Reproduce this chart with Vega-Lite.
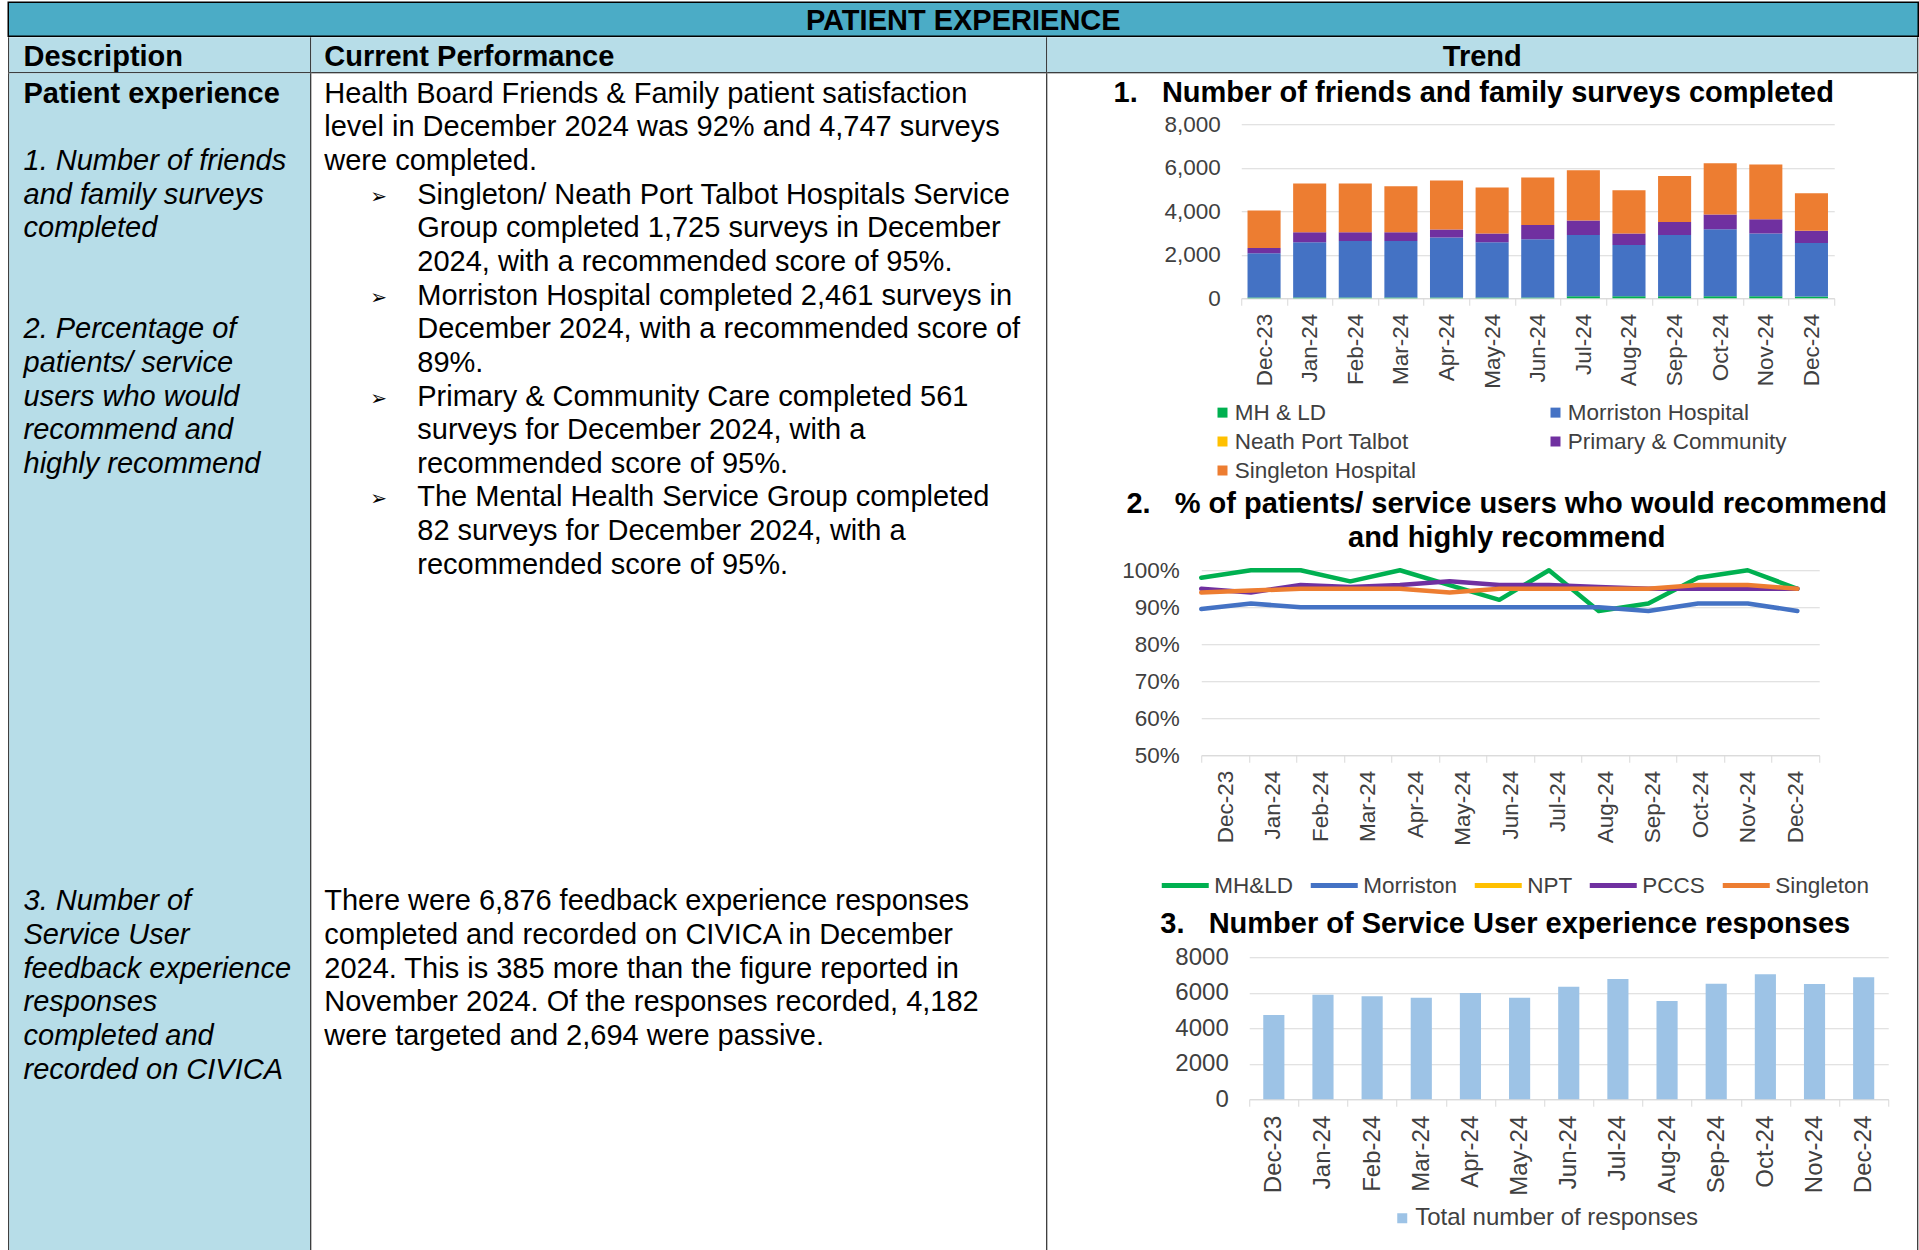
{
  "$schema": "https://vega.github.io/schema/vega-lite/v6.json",
  "padding": {"left": 7.25, "top": 1.25, "right": 0, "bottom": 0},
  "background": "#ffffff",
  "config": {
    "font": "Liberation Sans",
    "view": {"stroke": null},
    "title": {"font": "Liberation Sans", "fontSize": 29, "fontWeight": "bold", "color": "#000000", "frame": "group", "anchor": "middle"},
    "axis": {"labelFont": "Liberation Sans", "labelColor": "#404040", "labelOverlap": false},
    "legend": {"labelFont": "Liberation Sans", "labelColor": "#404040", "padding": 0, "labelLimit": 500},
    "text": {"font": "Liberation Sans", "fill": "#000000"}
  },
  "datasets": {
    "ff": [
      {"m": "Dec-23", "g": "MH & LD", "v": 30}, {"m": "Dec-23", "g": "Morriston Hospital", "v": 2039}, {"m": "Dec-23", "g": "Primary & Community", "v": 245}, {"m": "Dec-23", "g": "Singleton Hospital", "v": 1717},
      {"m": "Jan-24", "g": "MH & LD", "v": 30}, {"m": "Jan-24", "g": "Morriston Hospital", "v": 2545}, {"m": "Jan-24", "g": "Primary & Community", "v": 460}, {"m": "Jan-24", "g": "Singleton Hospital", "v": 2237},
      {"m": "Feb-24", "g": "MH & LD", "v": 30}, {"m": "Feb-24", "g": "Morriston Hospital", "v": 2606}, {"m": "Feb-24", "g": "Primary & Community", "v": 399}, {"m": "Feb-24", "g": "Singleton Hospital", "v": 2237},
      {"m": "Mar-24", "g": "MH & LD", "v": 30}, {"m": "Mar-24", "g": "Morriston Hospital", "v": 2606}, {"m": "Mar-24", "g": "Primary & Community", "v": 399}, {"m": "Mar-24", "g": "Singleton Hospital", "v": 2115},
      {"m": "Apr-24", "g": "MH & LD", "v": 30}, {"m": "Apr-24", "g": "Morriston Hospital", "v": 2759}, {"m": "Apr-24", "g": "Primary & Community", "v": 368}, {"m": "Apr-24", "g": "Singleton Hospital", "v": 2253},
      {"m": "May-24", "g": "MH & LD", "v": 30}, {"m": "May-24", "g": "Morriston Hospital", "v": 2545}, {"m": "May-24", "g": "Primary & Community", "v": 398}, {"m": "May-24", "g": "Singleton Hospital", "v": 2115},
      {"m": "Jun-24", "g": "MH & LD", "v": 30}, {"m": "Jun-24", "g": "Morriston Hospital", "v": 2683}, {"m": "Jun-24", "g": "Primary & Community", "v": 659}, {"m": "Jun-24", "g": "Singleton Hospital", "v": 2176},
      {"m": "Jul-24", "g": "MH & LD", "v": 90}, {"m": "Jul-24", "g": "Morriston Hospital", "v": 2822}, {"m": "Jul-24", "g": "Primary & Community", "v": 659}, {"m": "Jul-24", "g": "Singleton Hospital", "v": 2314},
      {"m": "Aug-24", "g": "MH & LD", "v": 90}, {"m": "Aug-24", "g": "Morriston Hospital", "v": 2362}, {"m": "Aug-24", "g": "Primary & Community", "v": 521}, {"m": "Aug-24", "g": "Singleton Hospital", "v": 1993},
      {"m": "Sep-24", "g": "MH & LD", "v": 90}, {"m": "Sep-24", "g": "Morriston Hospital", "v": 2822}, {"m": "Sep-24", "g": "Primary & Community", "v": 598}, {"m": "Sep-24", "g": "Singleton Hospital", "v": 2115},
      {"m": "Oct-24", "g": "MH & LD", "v": 90}, {"m": "Oct-24", "g": "Morriston Hospital", "v": 3082}, {"m": "Oct-24", "g": "Primary & Community", "v": 675}, {"m": "Oct-24", "g": "Singleton Hospital", "v": 2360},
      {"m": "Nov-24", "g": "MH & LD", "v": 90}, {"m": "Nov-24", "g": "Morriston Hospital", "v": 2883}, {"m": "Nov-24", "g": "Primary & Community", "v": 659}, {"m": "Nov-24", "g": "Singleton Hospital", "v": 2514},
      {"m": "Dec-24", "g": "MH & LD", "v": 82}, {"m": "Dec-24", "g": "Morriston Hospital", "v": 2461}, {"m": "Dec-24", "g": "Primary & Community", "v": 561}, {"m": "Dec-24", "g": "Singleton Hospital", "v": 1725}
    ],
    "pct": [
      {"m": "Dec-23", "g": "MH&LD", "v": 98}, {"m": "Jan-24", "g": "MH&LD", "v": 100}, {"m": "Feb-24", "g": "MH&LD", "v": 100}, {"m": "Mar-24", "g": "MH&LD", "v": 97}, {"m": "Apr-24", "g": "MH&LD", "v": 100}, {"m": "May-24", "g": "MH&LD", "v": 96}, {"m": "Jun-24", "g": "MH&LD", "v": 92}, {"m": "Jul-24", "g": "MH&LD", "v": 100}, {"m": "Aug-24", "g": "MH&LD", "v": 89}, {"m": "Sep-24", "g": "MH&LD", "v": 91}, {"m": "Oct-24", "g": "MH&LD", "v": 98}, {"m": "Nov-24", "g": "MH&LD", "v": 100}, {"m": "Dec-24", "g": "MH&LD", "v": 95},
      {"m": "Dec-23", "g": "Morriston", "v": 89.5}, {"m": "Jan-24", "g": "Morriston", "v": 91}, {"m": "Feb-24", "g": "Morriston", "v": 90}, {"m": "Mar-24", "g": "Morriston", "v": 90}, {"m": "Apr-24", "g": "Morriston", "v": 90}, {"m": "May-24", "g": "Morriston", "v": 90}, {"m": "Jun-24", "g": "Morriston", "v": 90}, {"m": "Jul-24", "g": "Morriston", "v": 90}, {"m": "Aug-24", "g": "Morriston", "v": 90}, {"m": "Sep-24", "g": "Morriston", "v": 89}, {"m": "Oct-24", "g": "Morriston", "v": 91}, {"m": "Nov-24", "g": "Morriston", "v": 91}, {"m": "Dec-24", "g": "Morriston", "v": 89},
      {"m": "Dec-23", "g": "PCCS", "v": 95}, {"m": "Jan-24", "g": "PCCS", "v": 94}, {"m": "Feb-24", "g": "PCCS", "v": 96}, {"m": "Mar-24", "g": "PCCS", "v": 95.5}, {"m": "Apr-24", "g": "PCCS", "v": 96}, {"m": "May-24", "g": "PCCS", "v": 97}, {"m": "Jun-24", "g": "PCCS", "v": 96}, {"m": "Jul-24", "g": "PCCS", "v": 96}, {"m": "Aug-24", "g": "PCCS", "v": 95.5}, {"m": "Sep-24", "g": "PCCS", "v": 95}, {"m": "Oct-24", "g": "PCCS", "v": 95}, {"m": "Nov-24", "g": "PCCS", "v": 95}, {"m": "Dec-24", "g": "PCCS", "v": 95},
      {"m": "Dec-23", "g": "Singleton", "v": 94}, {"m": "Jan-24", "g": "Singleton", "v": 94.5}, {"m": "Feb-24", "g": "Singleton", "v": 95}, {"m": "Mar-24", "g": "Singleton", "v": 95}, {"m": "Apr-24", "g": "Singleton", "v": 95}, {"m": "May-24", "g": "Singleton", "v": 94}, {"m": "Jun-24", "g": "Singleton", "v": 95}, {"m": "Jul-24", "g": "Singleton", "v": 95}, {"m": "Aug-24", "g": "Singleton", "v": 95}, {"m": "Sep-24", "g": "Singleton", "v": 95}, {"m": "Oct-24", "g": "Singleton", "v": 96}, {"m": "Nov-24", "g": "Singleton", "v": 96}, {"m": "Dec-24", "g": "Singleton", "v": 95}
    ],
    "resp": [
      {"m": "Dec-23", "v": 4744}, {"m": "Jan-24", "v": 5892}, {"m": "Feb-24", "v": 5798}, {"m": "Mar-24", "v": 5722}, {"m": "Apr-24", "v": 5986}, {"m": "May-24", "v": 5722}, {"m": "Jun-24", "v": 6344}, {"m": "Jul-24", "v": 6776}, {"m": "Aug-24", "v": 5534}, {"m": "Sep-24", "v": 6513}, {"m": "Oct-24", "v": 7040}, {"m": "Nov-24", "v": 6491}, {"m": "Dec-24", "v": 6876}
    ],
    "desc": [
      {"line": 0, "t": "Patient experience", "s": "b"},
      {"line": 2, "t": "1. Number of friends", "s": "i"},
      {"line": 3, "t": "and family surveys", "s": "i"},
      {"line": 4, "t": "completed", "s": "i"},
      {"line": 7, "t": "2. Percentage of", "s": "i"},
      {"line": 8, "t": "patients/ service", "s": "i"},
      {"line": 9, "t": "users who would", "s": "i"},
      {"line": 10, "t": "recommend and", "s": "i"},
      {"line": 11, "t": "highly recommend", "s": "i"},
      {"line": 24, "t": "3. Number of", "s": "i"},
      {"line": 25, "t": "Service User", "s": "i"},
      {"line": 26, "t": "feedback experience", "s": "i"},
      {"line": 27, "t": "responses", "s": "i"},
      {"line": 28, "t": "completed and", "s": "i"},
      {"line": 29, "t": "recorded on CIVICA", "s": "i"}
    ],
    "perf": [
      {"line": 0, "ind": 0, "t": "Health Board Friends & Family patient satisfaction"},
      {"line": 1, "ind": 0, "t": "level in December 2024 was 92% and 4,747 surveys"},
      {"line": 2, "ind": 0, "t": "were completed."},
      {"line": 3, "ind": 1, "t": "Singleton/ Neath Port Talbot Hospitals Service"},
      {"line": 4, "ind": 1, "t": "Group completed 1,725 surveys in December"},
      {"line": 5, "ind": 1, "t": "2024, with a recommended score of 95%."},
      {"line": 6, "ind": 1, "t": "Morriston Hospital completed 2,461 surveys in"},
      {"line": 7, "ind": 1, "t": "December 2024, with a recommended score of"},
      {"line": 8, "ind": 1, "t": "89%."},
      {"line": 9, "ind": 1, "t": "Primary & Community Care completed 561"},
      {"line": 10, "ind": 1, "t": "surveys for December 2024, with a"},
      {"line": 11, "ind": 1, "t": "recommended score of 95%."},
      {"line": 12, "ind": 1, "t": "The Mental Health Service Group completed"},
      {"line": 13, "ind": 1, "t": "82 surveys for December 2024, with a"},
      {"line": 14, "ind": 1, "t": "recommended score of 95%."},
      {"line": 24, "ind": 0, "t": "There were 6,876 feedback experience responses"},
      {"line": 25, "ind": 0, "t": "completed and recorded on CIVICA in December"},
      {"line": 26, "ind": 0, "t": "2024. This is 385 more than the figure reported in"},
      {"line": 27, "ind": 0, "t": "November 2024. Of the responses recorded, 4,182"},
      {"line": 28, "ind": 0, "t": "were targeted and 2,694 were passive."}
    ],
    "bul": [{"line": 3}, {"line": 6}, {"line": 9}, {"line": 12}]
  },
  "spacing": 1,
  "bounds": "flush",
  "resolve": {"scale": {"color": "independent"}, "legend": {"color": "independent"}},
  "vconcat": [
    {
      "width": 1910, "height": 34,
      "data": {"values": [{"t": "PATIENT EXPERIENCE"}]},
      "mark": {"type": "text", "fontSize": 29, "fontWeight": "bold", "align": "center", "baseline": "middle", "dy": 2},
      "encoding": {"text": {"field": "t"}},
      "view": {"fill": "#4BACC6", "stroke": "#000000", "strokeWidth": 1.5}
    },
    {
      "columns": 7, "spacing": 0, "bounds": "flush", "align": "each",
      "resolve": {"scale": {"color": "independent"}, "legend": {"color": "independent"}},
      "concat": [
        {"width": 1, "height": 35, "data": {"values": [{}]}, "mark": "text", "view": {"fill": "#000000"}},
        {"width": 301, "height": 35, "data": {"values": [{"t": "Description"}]},
         "mark": {"type": "text", "fontSize": 29, "fontWeight": "bold", "align": "left", "baseline": "middle", "dy": 2},
         "encoding": {"text": {"field": "t"}, "x": {"datum": 0, "type": "quantitative", "scale": {"domain": [-0.15323, 3.08333], "nice": false, "zero": false}, "axis": null}},
         "view": {"fill": "#B7DDE8"}},
        {"width": 1, "height": 35, "data": {"values": [{}]}, "mark": "text", "view": {"fill": "#000000"}},
        {"width": 735, "height": 35, "data": {"values": [{"t": "Current Performance"}]},
         "mark": {"type": "text", "fontSize": 29, "fontWeight": "bold", "align": "left", "baseline": "middle", "dy": 2},
         "encoding": {"text": {"field": "t"}, "x": {"datum": 0, "type": "quantitative", "scale": {"domain": [-0.13978, 7.76345], "nice": false, "zero": false}, "axis": null}},
         "view": {"fill": "#B7DDE8"}},
        {"width": 1, "height": 35, "data": {"values": [{}]}, "mark": "text", "view": {"fill": "#000000"}},
        {"width": 870, "height": 35, "data": {"values": [{"t": "Trend"}]},
         "mark": {"type": "text", "fontSize": 29, "fontWeight": "bold", "align": "center", "baseline": "middle", "dy": 2},
         "encoding": {"text": {"field": "t"}},
         "view": {"fill": "#B7DDE8"}},
        {"width": 1, "height": 35, "data": {"values": [{}]}, "mark": "text", "view": {"fill": "#000000"}},

        {"width": 1, "height": 1, "data": {"values": [{}]}, "mark": "text", "view": {"fill": "#000000"}},
        {"width": 301, "height": 1, "data": {"values": [{}]}, "mark": "text", "view": {"fill": "#000000"}},
        {"width": 1, "height": 1, "data": {"values": [{}]}, "mark": "text", "view": {"fill": "#000000"}},
        {"width": 735, "height": 1, "data": {"values": [{}]}, "mark": "text", "view": {"fill": "#000000"}},
        {"width": 1, "height": 1, "data": {"values": [{}]}, "mark": "text", "view": {"fill": "#000000"}},
        {"width": 870, "height": 1, "data": {"values": [{}]}, "mark": "text", "view": {"fill": "#000000"}},
        {"width": 1, "height": 1, "data": {"values": [{}]}, "mark": "text", "view": {"fill": "#000000"}},

        {"width": 1, "height": 1177, "data": {"values": [{}]}, "mark": "text", "view": {"fill": "#000000"}},
        {"width": 301, "height": 1177, "data": {"name": "desc"},
         "view": {"fill": "#B7DDE8"},
         "encoding": {
           "x": {"datum": 0, "type": "quantitative", "scale": {"domain": [-0.15323, 3.08333], "nice": false, "zero": false}, "axis": null},
           "y": {"field": "line", "type": "quantitative", "scale": {"domain": [-0.8737, 34.10401], "reverse": true, "nice": false, "zero": false}, "axis": null},
           "text": {"field": "t"}
         },
         "layer": [
           {"transform": [{"filter": "datum.s == 'b'"}], "mark": {"type": "text", "fontSize": 29, "fontWeight": "bold", "align": "left", "baseline": "alphabetic"}},
           {"transform": [{"filter": "datum.s == 'i'"}], "mark": {"type": "text", "fontSize": 29, "fontStyle": "italic", "align": "left", "baseline": "alphabetic"}}
         ]},
        {"width": 1, "height": 1177, "data": {"values": [{}]}, "mark": "text", "view": {"fill": "#000000"}},
        {"width": 735, "height": 1177,
         "layer": [
           {"data": {"name": "perf"},
            "mark": {"type": "text", "fontSize": 29, "align": "left", "baseline": "alphabetic"},
            "encoding": {
              "x": {"field": "ind", "type": "quantitative", "scale": {"domain": [-0.13978, 7.76345], "nice": false, "zero": false}, "axis": null},
              "y": {"field": "line", "type": "quantitative", "scale": {"domain": [-0.8737, 34.10401], "reverse": true, "nice": false, "zero": false}, "axis": null},
              "text": {"field": "t"}
            }},
           {"data": {"name": "bul"},
            "mark": {"type": "text", "font": "DejaVu Sans", "fontSize": 20, "align": "left", "baseline": "alphabetic", "dx": -47, "dy": -1, "text": "\u27a2"},
            "encoding": {
              "x": {"datum": 1, "type": "quantitative", "scale": {"domain": [-0.13978, 7.76345], "nice": false, "zero": false}, "axis": null},
              "y": {"field": "line", "type": "quantitative", "scale": {"domain": [-0.8737, 34.10401], "reverse": true, "nice": false, "zero": false}, "axis": null}
            }}
         ]},
        {"width": 1, "height": 1177, "data": {"values": [{}]}, "mark": "text", "view": {"fill": "#000000"}},
        {
          "spacing": 0, "bounds": "flush",
          "resolve": {"scale": {"color": "independent"}, "legend": {"color": "independent"}},
          "vconcat": [
            {"width": 870, "height": 51, "data": {"values": [{}]}, "mark": "text"},
            {"spacing": 0, "bounds": "flush",
             "resolve": {"scale": {"color": "independent"}, "legend": {"color": "independent"}},
             "hconcat": [
              {"width": 194, "height": 1, "data": {"values": [{}]}, "mark": "text"},
              {
                "width": 593, "height": 174,
                "data": {"name": "ff"},
                "title": {"text": "1.\u00a0\u00a0\u00a0Number of friends and family surveys completed", "dx": -64, "offset": 5},
                "mark": {"type": "bar", "width": {"band": 0.725}},
                "encoding": {
                  "x": {"field": "m", "type": "ordinal", "sort": ["Dec-23","Jan-24","Feb-24","Mar-24","Apr-24","May-24","Jun-24","Jul-24","Aug-24","Sep-24","Oct-24","Nov-24","Dec-24"],
                        "scale": {"type": "band", "paddingInner": 0, "paddingOuter": 0},
                        "axis": {"title": null, "orient": "bottom", "labelAngle": -90, "labelFontSize": 22.5, "labelPadding": 8, "tickBand": "extent", "tickSize": 7, "tickColor": "#D9D9D9", "domainColor": "#D9D9D9", "grid": false}},
                  "y": {"field": "v", "type": "quantitative", "stack": "zero", "scale": {"domain": [0, 8000], "nice": false},
                        "axis": {"title": null, "values": [0, 2000, 4000, 6000, 8000], "format": ",.0f", "labelFontSize": 22.5, "ticks": false, "tickSize": 0, "domain": false, "labelPadding": 21, "gridColor": "#D9D9D9"}},
                  "color": {"field": "g", "type": "nominal",
                            "scale": {"domain": ["MH & LD", "Morriston Hospital", "Neath Port Talbot", "Primary & Community", "Singleton Hospital"], "range": ["#00B050", "#4472C4", "#FFC000", "#7030A0", "#ED7D31"]},
                            "legend": {"orient": "none", "legendX": -30, "legendY": 277, "direction": "horizontal", "columns": 2, "title": null, "symbolType": "square", "symbolSize": 100, "symbolStrokeWidth": 0, "labelFontSize": 22.5, "labelOffset": 1, "columnPadding": 128, "rowPadding": 6, "labelLimit": 500}},
                  "order": {"field": "g", "type": "nominal", "sort": "ascending"}
                }
              }
            ]},
            {"width": 1, "height": 446, "data": {"values": [{}]}, "mark": "text"},
            {"spacing": 0, "bounds": "flush",
             "resolve": {"scale": {"color": "independent"}, "legend": {"color": "independent"}},
             "hconcat": [
              {"width": 154, "height": 1, "data": {"values": [{}]}, "mark": "text"},
              {
                "width": 618, "height": 185,
                "title": {"text": ["2.\u00a0\u00a0\u00a0% of patients/ service users who would recommend", "\u00a0\u00a0\u00a0\u00a0\u00a0\u00a0and highly recommend"], "dx": -3.5, "offset": 6, "lineHeight": 34},
                "resolve": {"scale": {"x": "independent"}, "axis": {"x": "independent"}},
                "layer": [
                  {
                    "data": {"name": "pct"},
                    "mark": {"type": "line", "strokeWidth": 4.5, "strokeJoin": "round", "strokeCap": "round"},
                    "encoding": {
                      "x": {"field": "m", "type": "ordinal", "sort": ["Dec-23","Jan-24","Feb-24","Mar-24","Apr-24","May-24","Jun-24","Jul-24","Aug-24","Sep-24","Oct-24","Nov-24","Dec-24"],
                            "scale": {"type": "point", "padding": 0.22, "align": 0}, "axis": null},
                      "y": {"field": "v", "type": "quantitative", "scale": {"domain": [50, 100], "nice": false, "zero": false},
                            "axis": {"title": null, "values": [50, 60, 70, 80, 90, 100], "labelExpr": "datum.value + '%'", "labelFontSize": 22.5, "ticks": false, "tickSize": 0, "domain": false, "labelPadding": 22, "gridColor": "#D9D9D9"}},
                      "color": {"field": "g", "type": "nominal",
                                "scale": {"domain": ["MH&LD", "Morriston", "NPT", "PCCS", "Singleton"], "range": ["#00B050", "#4472C4", "#FFC000", "#7030A0", "#ED7D31"]},
                                "legend": {"orient": "none", "legendX": -42, "legendY": 289, "direction": "horizontal", "columns": 5, "title": null, "symbolType": "stroke", "symbolSize": 2209, "symbolStrokeWidth": 5, "labelFontSize": 22.5, "labelOffset": 3, "columnPadding": 7, "labelLimit": 500}}
                    }
                  },
                  {
                    "data": {"name": "pct"},
                    "mark": {"type": "point", "opacity": 0},
                    "encoding": {
                      "x": {"field": "m", "type": "ordinal", "sort": ["Dec-23","Jan-24","Feb-24","Mar-24","Apr-24","May-24","Jun-24","Jul-24","Aug-24","Sep-24","Oct-24","Nov-24","Dec-24"],
                            "scale": {"type": "band", "paddingInner": 0, "paddingOuter": 0},
                            "axis": {"title": null, "orient": "bottom", "labelAngle": -90, "labelFontSize": 22.5, "labelPadding": 8, "tickBand": "extent", "tickSize": 7, "tickColor": "#D9D9D9", "domainColor": "#D9D9D9", "grid": false}}
                    }
                  }
                ]
              }
            ]},
            {"width": 1, "height": 387, "data": {"values": [{}]}, "mark": "text"},
            {"spacing": 0, "bounds": "flush",
             "resolve": {"scale": {"color": "independent"}, "legend": {"color": "independent"}},
             "hconcat": [
              {"width": 202, "height": 1, "data": {"values": [{}]}, "mark": "text"},
              {
                "width": 639, "height": 142,
                "data": {"name": "resp"},
                "title": {"text": "3.\u00a0\u00a0\u00a0Number of Service User experience responses", "dx": -63.5, "offset": 6},
                "mark": {"type": "bar", "width": {"band": 0.43}},
                "encoding": {
                  "x": {"field": "m", "type": "ordinal", "sort": ["Dec-23","Jan-24","Feb-24","Mar-24","Apr-24","May-24","Jun-24","Jul-24","Aug-24","Sep-24","Oct-24","Nov-24","Dec-24"],
                        "scale": {"type": "band", "paddingInner": 0, "paddingOuter": 0},
                        "axis": {"title": null, "orient": "bottom", "labelAngle": -90, "labelFontSize": 24, "labelPadding": 9, "tickBand": "extent", "tickSize": 7, "tickColor": "#D9D9D9", "domainColor": "#D9D9D9", "grid": false}},
                  "y": {"field": "v", "type": "quantitative", "scale": {"domain": [0, 8000], "nice": false},
                        "axis": {"title": null, "values": [0, 2000, 4000, 6000, 8000], "format": "d", "labelFontSize": 24, "ticks": false, "tickSize": 0, "domain": false, "labelPadding": 21, "gridColor": "#D9D9D9"}},
                  "color": {"datum": "Total number of responses", "type": "nominal", "scale": {"domain": ["Total number of responses"], "range": ["#9DC3E6"]},
                            "legend": {"orient": "none", "legendX": 141, "legendY": 249, "title": null, "symbolType": "square", "symbolSize": 100, "symbolStrokeWidth": 0, "labelFontSize": 24, "labelOffset": 1, "labelLimit": 500}}
                }
              }
            ]}
          ]
        },
        {"width": 1, "height": 1177, "data": {"values": [{}]}, "mark": "text", "view": {"fill": "#000000"}}
      ]
    }
  ]
}
